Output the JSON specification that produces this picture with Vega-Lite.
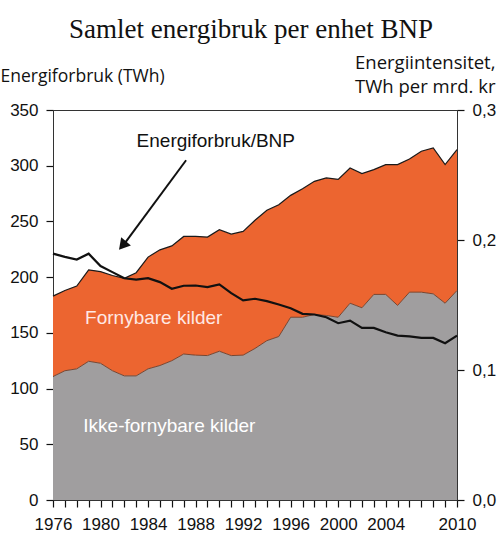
{
  "$schema": "https://vega.github.io/schema/vega-lite/v6.json",
  "autosize": {"type": "none"},
  "padding": {"left": 53, "top": 110, "right": 43, "bottom": 48},
  "width": 404,
  "height": 390,
  "title": {
    "text": "Samlet energibruk per enhet BNP",
    "font": "Liberation Serif",
    "fontSize": 27,
    "fontWeight": "normal",
    "color": "#111111",
    "anchor": "middle",
    "frame": "group",
    "dx": -4,
    "offset": 9
  },
  "data": {
    "values": [
      {"year": 1976, "total": 183, "nonrenewable": 110.8, "intensity": 0.1895},
      {"year": 1977, "total": 188, "nonrenewable": 116, "intensity": 0.187},
      {"year": 1978, "total": 192, "nonrenewable": 117.7, "intensity": 0.185},
      {"year": 1979, "total": 206.6, "nonrenewable": 124.5, "intensity": 0.1895},
      {"year": 1980, "total": 205, "nonrenewable": 122.7, "intensity": 0.18},
      {"year": 1981, "total": 201.5, "nonrenewable": 116, "intensity": 0.1753},
      {"year": 1982, "total": 199, "nonrenewable": 111.4, "intensity": 0.1706},
      {"year": 1983, "total": 204, "nonrenewable": 111.4, "intensity": 0.1696},
      {"year": 1984, "total": 218, "nonrenewable": 117.7, "intensity": 0.1706},
      {"year": 1985, "total": 224.5, "nonrenewable": 120.7, "intensity": 0.1676},
      {"year": 1986, "total": 228, "nonrenewable": 125, "intensity": 0.1625},
      {"year": 1987, "total": 236.5, "nonrenewable": 131, "intensity": 0.1648},
      {"year": 1988, "total": 236.5, "nonrenewable": 130, "intensity": 0.165},
      {"year": 1989, "total": 236, "nonrenewable": 129.6, "intensity": 0.1637},
      {"year": 1990, "total": 242.6, "nonrenewable": 133.5, "intensity": 0.1658},
      {"year": 1991, "total": 238.6, "nonrenewable": 129.6, "intensity": 0.1591},
      {"year": 1992, "total": 241, "nonrenewable": 130, "intensity": 0.1535},
      {"year": 1993, "total": 251, "nonrenewable": 136, "intensity": 0.1548},
      {"year": 1994, "total": 260, "nonrenewable": 143, "intensity": 0.153},
      {"year": 1995, "total": 265, "nonrenewable": 146.7, "intensity": 0.1504},
      {"year": 1996, "total": 273.4, "nonrenewable": 164, "intensity": 0.1475},
      {"year": 1997, "total": 279.4, "nonrenewable": 164, "intensity": 0.1432},
      {"year": 1998, "total": 286, "nonrenewable": 166.5, "intensity": 0.1427},
      {"year": 1999, "total": 289, "nonrenewable": 165.6, "intensity": 0.1406},
      {"year": 2000, "total": 287.8, "nonrenewable": 164, "intensity": 0.136},
      {"year": 2001, "total": 298, "nonrenewable": 176.6, "intensity": 0.138},
      {"year": 2002, "total": 293, "nonrenewable": 172.5, "intensity": 0.1324},
      {"year": 2003, "total": 296.5, "nonrenewable": 184.5, "intensity": 0.1324},
      {"year": 2004, "total": 301, "nonrenewable": 184.5, "intensity": 0.129},
      {"year": 2005, "total": 301, "nonrenewable": 174.6, "intensity": 0.1265},
      {"year": 2006, "total": 306, "nonrenewable": 186.5, "intensity": 0.1258},
      {"year": 2007, "total": 313, "nonrenewable": 186.5, "intensity": 0.1247},
      {"year": 2008, "total": 316, "nonrenewable": 185, "intensity": 0.1247},
      {"year": 2009, "total": 301, "nonrenewable": 176.6, "intensity": 0.1206},
      {"year": 2010, "total": 314.5, "nonrenewable": 188, "intensity": 0.1265}
    ]
  },
  "layer": [
    {
      "layer": [
        {
          "mark": {"type": "area", "color": "#A09E9F", "opacity": 1},
          "encoding": {
            "x": {
              "field": "year", "type": "quantitative",
              "scale": {"domain": [1976, 2010], "nice": false, "zero": false},
              "axis": {
                "title": null,
                "values": [1976,1977,1978,1979,1980,1981,1982,1983,1984,1985,1986,1987,1988,1989,1990,1991,1992,1993,1994,1995,1996,1997,1998,1999,2000,2001,2002,2003,2004,2005,2006,2007,2008,2009,2010],
                "tickCount": 60,
                "ticks": true,
                "tickColor": "#111111",
                "tickSize": 7,
                "tickWidth": 1.2,
                "labelExpr": "((datum.value - 1976) % 4 == 0 && datum.value <= 2004) || datum.value == 2010 ? format(datum.value, 'd') : ''",
                "labelOverlap": false,
                "labelFlush": false,
                "labelBound": false,
                "labelPadding": 9,
                "labelAngle": 0
              }
            },
            "y": {
              "field": "nonrenewable", "type": "quantitative",
              "scale": {"domain": [0, 350], "nice": false},
              "axis": {
                "values": [0, 50, 100, 150, 200, 250, 300, 350],
                "tickCount": 20,
                "ticks": true,
                "tickColor": "#111111",
                "tickSize": 7,
                "tickWidth": 1.2,
                "title": "Energiforbruk (TWh)",
                "titleAngle": 0,
                "titleAlign": "left",
                "titleBaseline": "alphabetic",
                "titleX": -53,
                "titleY": -29,
                "titleFont": "Open Sans",
                "titleFontSize": 17.5,
                "titleFontWeight": "normal",
                "titleColor": "#111111",
                "labelPadding": 8
              }
            }
          }
        },
        {
          "mark": {"type": "area", "color": "#EC6530", "opacity": 1},
          "encoding": {
            "x": {"field": "year", "type": "quantitative", "scale": {"domain": [1976, 2010], "nice": false, "zero": false}},
            "y": {"field": "total", "type": "quantitative", "scale": {"domain": [0, 350], "nice": false}},
            "y2": {"field": "nonrenewable"}
          }
        },
        {
          "mark": {"type": "line", "color": "#6a3d2a", "strokeWidth": 0.9},
          "encoding": {
            "x": {"field": "year", "type": "quantitative", "scale": {"domain": [1976, 2010], "nice": false, "zero": false}},
            "y": {"field": "nonrenewable", "type": "quantitative", "scale": {"domain": [0, 350], "nice": false}}
          }
        },
        {
          "mark": {"type": "line", "color": "#1a1a1a", "strokeWidth": 1.2},
          "encoding": {
            "x": {"field": "year", "type": "quantitative", "scale": {"domain": [1976, 2010], "nice": false, "zero": false}},
            "y": {"field": "total", "type": "quantitative", "scale": {"domain": [0, 350], "nice": false}}
          }
        },
        {
          "data": {"values": [{"label": "Energiforbruk/BNP"}]},
          "mark": {"type": "text", "font": "Liberation Sans", "fontSize": 19, "color": "#111111", "align": "center", "baseline": "alphabetic"},
          "encoding": {
            "x": {"datum": 1989.7, "type": "quantitative", "scale": {"domain": [1976, 2010], "nice": false, "zero": false}},
            "y": {"datum": 316.8, "type": "quantitative", "scale": {"domain": [0, 350], "nice": false}},
            "text": {"field": "label"}
          }
        },
        {
          "data": {"values": [{"label": "Fornybare kilder"}]},
          "mark": {"type": "text", "font": "Liberation Sans", "fontSize": 19, "color": "#FFE8E4", "align": "left", "baseline": "alphabetic"},
          "encoding": {
            "x": {"datum": 1978.7, "type": "quantitative", "scale": {"domain": [1976, 2010], "nice": false, "zero": false}},
            "y": {"datum": 158, "type": "quantitative", "scale": {"domain": [0, 350], "nice": false}},
            "text": {"field": "label"}
          }
        },
        {
          "data": {"values": [{"label": "Ikke-fornybare kilder"}]},
          "mark": {"type": "text", "font": "Liberation Sans", "fontSize": 19, "color": "#FFFFFF", "align": "left", "baseline": "alphabetic"},
          "encoding": {
            "x": {"datum": 1978.55, "type": "quantitative", "scale": {"domain": [1976, 2010], "nice": false, "zero": false}},
            "y": {"datum": 60.7, "type": "quantitative", "scale": {"domain": [0, 350], "nice": false}},
            "text": {"field": "label"}
          }
        },
        {
          "data": {"values": [{"part": "arrow"}]},
          "mark": {"type": "rule", "color": "#111111", "strokeWidth": 2},
          "encoding": {
            "x": {"datum": 1987.2, "type": "quantitative", "scale": {"domain": [1976, 2010], "nice": false, "zero": false}},
            "y": {"datum": 304.9, "type": "quantitative", "scale": {"domain": [0, 350], "nice": false}},
            "x2": {"datum": 1982.0},
            "y2": {"datum": 229.8}
          }
        },
        {
          "data": {"values": [{"part": "arrowhead"}]},
          "mark": {"type": "point", "shape": "triangle", "filled": true, "color": "#111111", "opacity": 1, "size": 160, "angle": 220},
          "encoding": {
            "x": {"datum": 1981.95, "type": "quantitative", "scale": {"domain": [1976, 2010], "nice": false, "zero": false}},
            "y": {"datum": 229.6, "type": "quantitative", "scale": {"domain": [0, 350], "nice": false}}
          }
        }
      ]
    },
    {
      "mark": {"type": "line", "color": "#111111", "strokeWidth": 2.2},
      "encoding": {
        "x": {"field": "year", "type": "quantitative", "scale": {"domain": [1976, 2010], "nice": false, "zero": false}},
        "y": {
          "field": "intensity", "type": "quantitative",
          "scale": {"domain": [0, 0.3], "nice": false},
          "axis": {
            "orient": "right",
            "values": [0, 0.1, 0.2, 0.3],
            "tickCount": 20,
            "ticks": true,
            "tickColor": "#111111",
            "tickSize": 7,
            "tickWidth": 1.2,
            "labelExpr": "replace(format(datum.value, '.1f'), '.', ',')",
            "labelPadding": 8,
            "title": ["Energiintensitet,", "TWh per mrd. kr"],
            "titleAngle": 0,
            "titleAlign": "right",
            "titleBaseline": "alphabetic",
            "titleX": 38,
            "titleY": -42,
            "titleLineHeight": 24,
            "titleFont": "Open Sans",
            "titleFontSize": 18.5,
            "titleFontWeight": "normal",
            "titleColor": "#111111"
          }
        }
      }
    }
  ],
  "resolve": {"scale": {"y": "independent"}, "axis": {"y": "independent"}},
  "config": {
    "view": {"stroke": "#333333", "strokeWidth": 1},
    "axis": {
      "grid": false,
      "domainColor": "#333333",
      "domainWidth": 1,
      "labelFont": "Liberation Sans",
      "labelFontSize": 17,
      "labelColor": "#111111"
    }
  }
}
